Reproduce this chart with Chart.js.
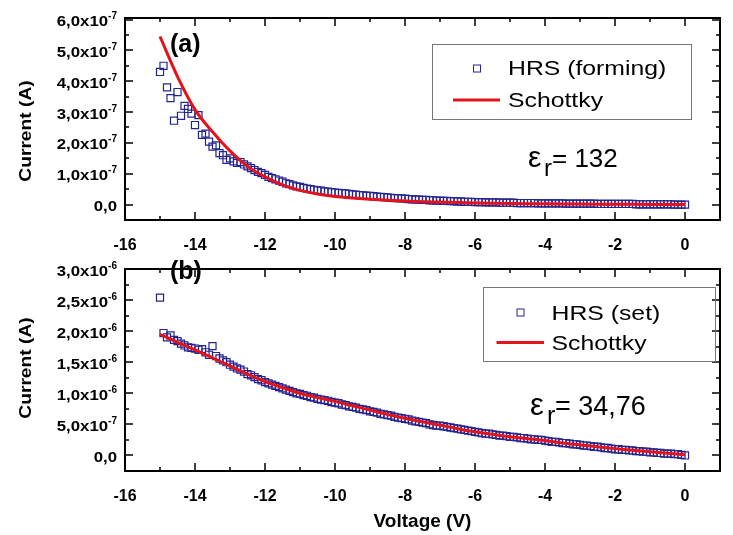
<!DOCTYPE html>
<html>
<head>
<meta charset="utf-8">
<script src="https://cdn.jsdelivr.net/npm/chart.js@4"></script>
<style>
    body { margin: 0; background: #fff; }
    #figure { position: relative; width: 733px; height: 535px; }
    canvas { position: absolute; left: 0; }
</style>
</head>
<body>
<div id="figure">
    <canvas id="forming-chart" width="733" height="250" style="top:0;width:733px;height:250px"></canvas>
    <canvas id="set-chart" width="733" height="285" style="top:250px;width:733px;height:285px"></canvas>
</div>
<script>
// Balayage en tension : mesures tous les 0,1 V, ajustement tous les 0,5 V (de -15 V à 0 V)
const mesureDebut = -15, mesurePas = 0.1
const fitDebut = -15, fitPas = 0.5

// (a) HRS après forming, courant en 1e-7 A
const formingCourant = [
    4.30, 4.50, 3.80, 3.45, 2.72, 3.65, 2.88, 3.20, 3.10, 2.95,
    2.58, 2.90, 2.26, 2.30, 2.04, 1.88, 1.92, 1.67, 1.60, 1.45,
    1.50, 1.40, 1.35, 1.38, 1.30, 1.24, 1.18, 1.12, 1.06, 1.02,
    0.96, 0.90, 0.86, 0.82, 0.78, 0.74, 0.69, 0.66, 0.62, 0.59,
    0.57, 0.54, 0.52, 0.50, 0.48, 0.46, 0.45, 0.43, 0.42, 0.40,
    0.39, 0.38, 0.37, 0.36, 0.35, 0.33, 0.32, 0.31, 0.30, 0.29,
    0.28, 0.27, 0.26, 0.25, 0.24, 0.23, 0.22, 0.21, 0.21, 0.20,
    0.19, 0.18, 0.17, 0.17, 0.16, 0.15, 0.15, 0.14, 0.14, 0.13,
    0.13, 0.12, 0.12, 0.11, 0.11, 0.10, 0.10, 0.09, 0.09, 0.09,
    0.08, 0.08, 0.08, 0.07, 0.07, 0.07, 0.07, 0.06, 0.06, 0.06,
    0.06, 0.06, 0.05, 0.05, 0.05, 0.05, 0.05, 0.05, 0.04, 0.04,
    0.04, 0.04, 0.04, 0.04, 0.04, 0.04, 0.03, 0.03, 0.03, 0.03,
    0.03, 0.03, 0.03, 0.03, 0.03, 0.02, 0.02, 0.02, 0.02, 0.02,
    0.02, 0.02, 0.02, 0.02, 0.02, 0.02, 0.01, 0.01, 0.01, 0.01,
    0.01, 0.01, 0.01, 0.01, 0.01, 0.01, 0.01, 0.00, 0.00, 0.00,
    0.00
]
const formingSchottky = [
    5.45, 4.15, 3.08, 2.36, 1.74, 1.24, 0.90, 0.64, 0.46, 0.34,
    0.26, 0.21, 0.17, 0.14, 0.115, 0.095, 0.08, 0.065, 0.052, 0.043,
    0.036, 0.03, 0.025, 0.021, 0.017, 0.014, 0.011, 0.008, 0.006, 0.004,
    0.002
]

// (b) HRS après set, courant en 1e-6 A
const setCourant = [
    2.54, 1.97, 1.90, 1.93, 1.86, 1.84, 1.80, 1.77, 1.74, 1.73,
    1.72, 1.70, 1.71, 1.66, 1.62, 1.76, 1.60, 1.56, 1.53, 1.50,
    1.46, 1.43, 1.40, 1.38, 1.35, 1.31, 1.29, 1.26, 1.23, 1.21,
    1.18, 1.16, 1.14, 1.12, 1.10, 1.08, 1.06, 1.04, 1.02, 1.00,
    0.99, 0.97, 0.96, 0.94, 0.93, 0.91, 0.90, 0.89, 0.88, 0.86,
    0.85, 0.84, 0.82, 0.81, 0.79, 0.78, 0.77, 0.75, 0.74, 0.73,
    0.71, 0.70, 0.69, 0.67, 0.66, 0.65, 0.64, 0.62, 0.61, 0.60,
    0.59, 0.58, 0.56, 0.55, 0.54, 0.53, 0.52, 0.50, 0.49, 0.48,
    0.48, 0.47, 0.46, 0.45, 0.44, 0.43, 0.42, 0.41, 0.40, 0.39,
    0.38, 0.37, 0.36, 0.35, 0.35, 0.34, 0.33, 0.32, 0.32, 0.31,
    0.30, 0.30, 0.29, 0.28, 0.28, 0.27, 0.26, 0.26, 0.25, 0.25,
    0.24, 0.23, 0.22, 0.22, 0.21, 0.20, 0.20, 0.19, 0.18, 0.18,
    0.17, 0.16, 0.16, 0.15, 0.14, 0.14, 0.13, 0.12, 0.12, 0.11,
    0.10, 0.10, 0.09, 0.09, 0.08, 0.08, 0.07, 0.07, 0.06, 0.06,
    0.05, 0.05, 0.04, 0.04, 0.03, 0.03, 0.03, 0.02, 0.02, 0.01,
    0.00
]
const setSchottky = [
    1.95, 1.82, 1.70, 1.57, 1.44, 1.31, 1.19, 1.09, 1.00, 0.93,
    0.87, 0.80, 0.73, 0.66, 0.60, 0.54, 0.49, 0.43, 0.38, 0.34,
    0.30, 0.27, 0.24, 0.20, 0.17, 0.14, 0.11, 0.085, 0.06, 0.035,
    0.012
]

// Graduations
const xTicks = [-16, -14, -12, -10, -8, -6, -4, -2, 0]
const formingYTicks = [0, 1e-7, 2e-7, 3e-7, 4e-7, 5e-7, 6e-7]
const formingYLabels = ['0,0', '1,0x10^-7', '2,0x10^-7', '3,0x10^-7', '4,0x10^-7', '5,0x10^-7', '6,0x10^-7']
const setYTicks = [0, 0.5e-6, 1e-6, 1.5e-6, 2e-6, 2.5e-6, 3e-6]
const setYLabels = ['0,0', '5,0x10^-7', '1,0x10^-6', '1,5x10^-6', '2,0x10^-6', '2,5x10^-6', '3,0x10^-6']

const BLEU = '#24248f'
const ROUGE = '#e3121b'
const POLICE = '"Liberation Sans", Arial, sans-serif'

// Convertit une liste de valeurs en points {x, y}
function versPoints(valeurs, debut, pas, unite) {
    return valeurs.map((v, i) => ({ x: debut + i * pas, y: v * unite }))
}

// Texte élargi horizontalement (la police de la figure est plus large qu'Arial)
function texteEtire(ctx, texte, x, y, font, sx) {
    ctx.save()
    ctx.font = font
    ctx.translate(x, y)
    ctx.scale(sx, 1)
    ctx.fillText(texte, 0, 0)
    ctx.restore()
    ctx.font = font
    return ctx.measureText(texte).width * sx
}

// Milieux entre graduations principales = graduations secondaires
function milieux(ticks) {
    const res = []
    for (let i = 0; i < ticks.length - 1; i++) res.push((ticks[i] + ticks[i + 1]) / 2)
    return res
}

// Cadre, graduations intérieures, étiquettes Y avec exposants, légende et annotations
const decor = {
    id: 'decor',
    afterDraw(chart, args, o) {
        const { ctx, chartArea: a, scales: { x, y } } = chart
        ctx.save()
        ctx.fillStyle = '#000'
        ctx.strokeStyle = '#000'

        // Cadre
        ctx.lineWidth = 2
        ctx.strokeRect(a.left, a.top, a.right - a.left, a.bottom - a.top)

        // Graduations vers l'intérieur, sur les quatre côtés
        ctx.lineWidth = 1.5
        ctx.beginPath()
        const trait = (vals, len, horiz) => {
            for (const v of vals) {
                if (horiz) {
                    const px = Math.round(x.getPixelForValue(v))
                    ctx.moveTo(px, a.bottom); ctx.lineTo(px, a.bottom - len)
                    ctx.moveTo(px, a.top); ctx.lineTo(px, a.top + len)
                } else {
                    const py = Math.round(y.getPixelForValue(v))
                    ctx.moveTo(a.left, py); ctx.lineTo(a.left + len, py)
                    ctx.moveTo(a.right, py); ctx.lineTo(a.right - len, py)
                }
            }
        }
        trait(xTicks, 8, true)
        trait(milieux(xTicks), 4, true)
        trait(o.yTicks, 8, false)
        trait(milieux(o.yTicks), 4, false)
        ctx.stroke()

        // Étiquettes Y : mantisse + exposant en petit
        ctx.textBaseline = 'alphabetic'
        const fBase = 'bold 15px ' + POLICE
        const fExp = 'bold 10px ' + POLICE
        o.yTicks.forEach((v, i) => {
            const [base, exp] = o.yLabels[i].split('^')
            const py = y.getPixelForValue(v)
            ctx.font = fBase
            const wb = ctx.measureText(base).width * 1.12
            ctx.font = fExp
            const we = exp ? ctx.measureText(exp).width : 0
            const gauche = a.left - 8 - wb - we
            texteEtire(ctx, base, gauche, py + 6.5, fBase, 1.12)
            if (exp) {
                ctx.font = fExp
                ctx.fillText(exp, gauche + wb, py - 0.5)
            }
        })

        // Titre de l'axe Y
        ctx.save()
        ctx.translate(26, o.titreY)
        ctx.rotate(-Math.PI / 2)
        ctx.scale(1.13, 1)
        ctx.font = 'bold 17px ' + POLICE
        ctx.textAlign = 'center'
        ctx.textBaseline = 'middle'
        ctx.fillText('Current (A)', 0, 0)
        ctx.restore()

        // Légende
        const L = o.legende
        ctx.lineWidth = 1
        ctx.strokeStyle = '#777'
        ctx.strokeRect(L.x1 + 0.5, L.y1 + 0.5, L.x2 - L.x1, L.y2 - L.y1)
        ctx.strokeStyle = BLEU
        ctx.strokeRect(L.marqueX - 3.5, L.marqueY - 3.5, 7, 7)
        ctx.strokeStyle = ROUGE
        ctx.lineWidth = 3
        ctx.beginPath()
        ctx.moveTo(L.traitX1, L.traitY); ctx.lineTo(L.traitX2, L.traitY)
        ctx.stroke()
        const fLeg = '21px ' + POLICE
        texteEtire(ctx, chart.data.datasets[0].label, L.texteX, L.ligne1, fLeg, 1.18)
        texteEtire(ctx, chart.data.datasets[1].label, L.texteX, L.ligne2, fLeg, 1.18)

        // Permittivité relative
        const E = o.eps
        texteEtire(ctx, 'ε', E.x, E.y, (E.taille + 4) + 'px ' + POLICE, 1)
        texteEtire(ctx, 'r', E.xr, E.y + 9, (E.taille - 2) + 'px ' + POLICE, 1)
        texteEtire(ctx, '= ' + E.valeur, E.xv, E.y, E.taille + 'px ' + POLICE, 1)

        // Lettre du panneau
        texteEtire(ctx, o.lettre, 170, o.lettreY, 'bold 25px ' + POLICE, 1)
        ctx.restore()
    }
}

// Crée un panneau courant-tension (mesure + ajustement Schottky)
function creerPanneau(canvasId, p) {
    return new Chart(document.getElementById(canvasId), {
        type: 'scatter',
        data: {
            datasets: [{
                label: p.label,
                data: p.mesure,
                pointStyle: 'rect',
                pointRadius: 5,
                pointBorderWidth: 1.2,
                pointBorderColor: BLEU,
                pointBackgroundColor: 'rgba(0,0,0,0)',
                order: 1
            }, {
                label: 'Schottky',
                data: p.fit,
                showLine: true,
                pointRadius: 0,
                borderColor: ROUGE,
                borderWidth: 3,
                cubicInterpolationMode: 'monotone',
                order: 0
            }]
        },
        options: {
            responsive: false,
            animation: false,
            events: [],
            layout: { autoPadding: false, padding: { left: 0, right: 13, top: p.haut, bottom: 0 } },
            plugins: { legend: { display: false }, tooltip: { enabled: false }, decor: p.decor },
            scales: {
                x: {
                    type: 'linear', min: -16, max: 1,
                    afterBuildTicks: s => { s.ticks = xTicks.map(v => ({ value: v })) },
                    afterFit: s => { s.height = p.hauteurX },
                    grid: { display: false },
                    border: { display: false },
                    ticks: { color: '#000', padding: 8, font: { family: POLICE, size: 16, weight: 'bold' }, callback: v => String(v) },
                    title: p.titreX
                },
                y: {
                    type: 'linear', min: p.yMin, max: p.yMax,
                    afterFit: s => { s.width = 125 },
                    grid: { display: false },
                    border: { display: false },
                    ticks: { display: false }
                }
            }
        },
        plugins: [decor]
    })
}

creerPanneau('forming-chart', {
    label: 'HRS (forming)',
    mesure: versPoints(formingCourant, mesureDebut, mesurePas, 1e-7),
    fit: versPoints(formingSchottky, fitDebut, fitPas, 1e-7),
    haut: 18, hauteurX: 30,
    yMin: -0.5e-7, yMax: 6.05e-7,
    titreX: { display: false },
    decor: {
        yTicks: formingYTicks, yLabels: formingYLabels,
        titreY: 131, lettre: '(a)', lettreY: 51.5,
        legende: { x1: 432, y1: 44, x2: 691, y2: 119, marqueX: 477, marqueY: 68.5, traitX1: 453, traitX2: 500, traitY: 100, texteX: 508, ligne1: 75, ligne2: 106.5 },
        eps: { x: 528, xr: 544, xv: 552, y: 166.5, taille: 26, valeur: '132' }
    }
})

creerPanneau('set-chart', {
    label: 'HRS (set)',
    mesure: versPoints(setCourant, mesureDebut, mesurePas, 1e-6),
    fit: versPoints(setSchottky, fitDebut, fitPas, 1e-6),
    haut: 19, hauteurX: 64,
    yMin: -0.25e-6, yMax: 3.0e-6,
    titreX: { display: true, text: 'Voltage (V)', color: '#000', font: { family: POLICE, size: 19, weight: 'bold' }, padding: { top: 0, bottom: 2 } },
    decor: {
        yTicks: setYTicks, yLabels: setYLabels,
        titreY: 118, lettre: '(b)', lettreY: 28.5,
        legende: { x1: 483, y1: 37, x2: 715, y2: 111, marqueX: 520.5, marqueY: 62.5, traitX1: 496.5, traitX2: 544, traitY: 92.5, texteX: 551.5, ligne1: 70, ligne2: 100 },
        eps: { x: 530, xr: 547, xv: 555, y: 164.5, taille: 27, valeur: '34,76' }
    }
})
</script>
</body>
</html>
